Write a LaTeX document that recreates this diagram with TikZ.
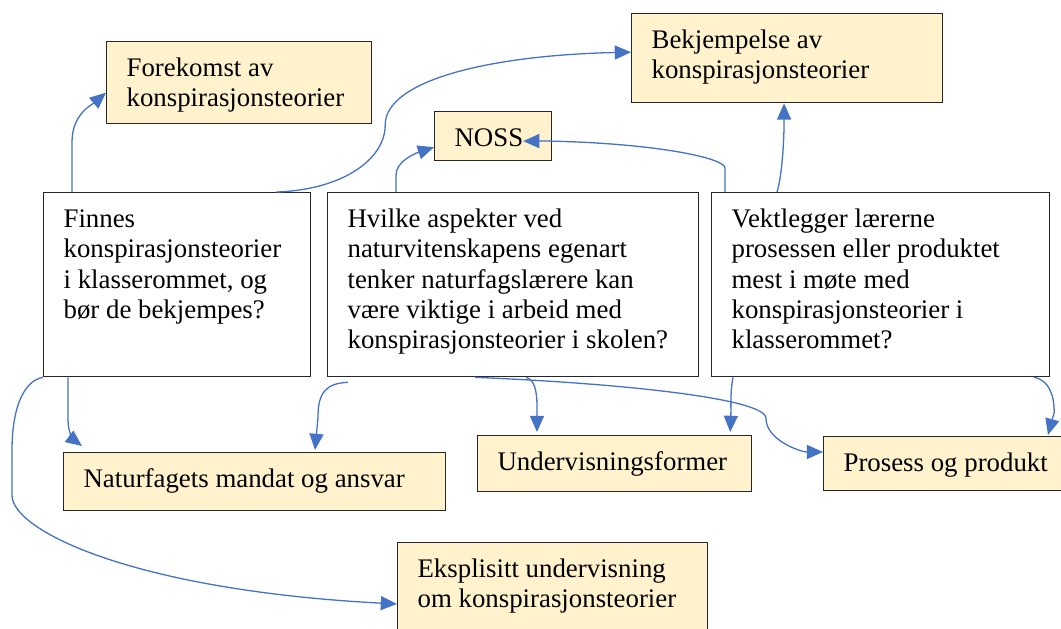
\documentclass[tikz,border=0pt]{standalone}
\usepackage{fontspec}
\setmainfont{Liberation Serif}
\usepackage{tikz}
\usetikzlibrary{arrows.meta, calc}
\newdimen\pxu
\pxu=0.462pt
\newcommand{\boxtext}[3]{\parbox[t][\dimexpr#2\pxu-13pt\relax][t]{\dimexpr#1\pxu-40\pxu\relax}{\raggedright\strut #3}}
\definecolor{boksgul}{RGB}{255,242,204}
\definecolor{pilblaa}{RGB}{68,114,196}
\tikzset{>={Triangle[length=7.5pt,width=6.5pt]},
  tema/.style={draw=black!85, line width=0.55pt, fill=boksgul, anchor=north west, inner xsep=20\pxu, inner ysep=6.3pt, font=\fontsize{12.4pt}{14pt}\selectfont},
  sporsmal/.style={tema, fill=white},
  kobling/.style={->, draw=pilblaa, line width=0.6pt}}

\begin{document}
\begin{tikzpicture}[x=\pxu, y=-\pxu]
	\useasboundingbox (0,0) rectangle (1061,628);

	\node[tema] (forekomst) at (106,41) {\boxtext{265}{83}{Forekomst av\\konspirasjonsteorier}};
	\node[tema] (bekjempelse) at (631,13) {\boxtext{311}{90}{Bekjempelse av\\konspirasjonsteorier}};
	\node[tema] (noss) at (434,111) {\boxtext{117}{50}{NOSS}};

	\node[sporsmal] (finnes) at (43,192) {\boxtext{267}{185}{Finnes\\konspirasjonsteorier\\i klasserommet, og\\bør de bekjempes?}};
	\node[sporsmal] (hvilke) at (327,192) {\boxtext{371}{185}{Hvilke aspekter ved\\naturvitenskapens egenart\\tenker naturfagslærere kan\\være viktige i arbeid med\\konspirasjonsteorier i skolen?}};
	\node[sporsmal] (vekt) at (711,192) {\boxtext{338}{185}{Vektlegger lærerne\\prosessen eller produktet\\mest i møte med\\konspirasjonsteorier i\\klasserommet?}};

	\node[tema] (natur) at (63,452) {\boxtext{382}{59}{Naturfagets mandat og ansvar}};
	\node[tema] (under) at (477,435) {\boxtext{274}{57}{Undervisningsformer}};
	\node[tema] (prosess) at (823,436) {\boxtext{250}{55}{Prosess og produkt}};
	\node[tema] (eksplisitt) at (397,542) {\boxtext{310}{100}{Eksplisitt undervisning\\om konspirasjonsteorier}};

	% oppover
	\draw[kobling] ($(finnes.north west)+(29,0)$) -- ++(0,-50) .. controls +(0,-28) and +(-14,12) .. ($(forekomst.west)+(0,10)$);
	\draw[kobling] ($(finnes.north east)+(-35,0)$) .. controls +(65,-2) and +(0,35) .. ++(109,-67) .. controls +(0,-45) and +(-140,3) .. ($(bekjempelse.west)+(0,-6)$);
	\draw[kobling] ($(hvilke.north west)+(69,0)$) -- ++(0,-17) .. controls +(0,-14) and +(-18,6) .. ($(noss.west)+(0,11)$);
	\draw[kobling] ($(vekt.north west)+(14,0)$) -- ++(0,-24) .. controls +(0,-10) and +(110,2) .. ++(-180,-27) -- ($(noss.east)+(-29,5)$);
	\draw[kobling] ($(vekt.north west)+(66,0)$) .. controls +(4,-12) and +(0,45) .. ($(bekjempelse.south)+(-3,0)$);

	% nedover
	\draw[kobling] (finnes.south west) .. controls +(-18,3) and +(0,-45) .. ++(-31,73) -- ++(0,45) .. controls +(0,35) and +(-265,-14) .. ($(eksplisitt.north west)+(0,62)$);
	\draw[kobling] ($(finnes.south west)+(25,0)$) -- ++(0,43) .. controls +(0,12) and +(-8,-6) .. ($(natur.north west)+(19,-6)$);
	\draw[kobling] ($(hvilke.south west)+(21,5)$) .. controls +(-22,1) and +(0,-25) .. ++(-30,35) -- ($(natur.north west)+(252,-2)$);
	\draw[kobling] ($(hvilke.south west)+(199,0)$) .. controls +(8,2) and +(0,-15) .. ++(11,28) -- ($(under.north west)+(60,-3)$);
	\draw[kobling] ($(hvilke.south west)+(148,0)$) .. controls +(145,6) and +(0,-20) .. ++(291,41) .. controls +(0,22) and +(-22,0) .. ($(prosess.north west)+(0,16)$);
	\draw[kobling] ($(vekt.south west)+(22,0)$) .. controls +(-3,15) and +(1,-25) .. ($(under.north east)+(-22,-3)$);
	\draw[kobling] ($(vekt.south east)+(-16,0)$) .. controls +(15,3) and +(0,-17) .. ++(20,35) -- ($(prosess.north west)+(225,-1)$);
\end{tikzpicture}
\end{document}
